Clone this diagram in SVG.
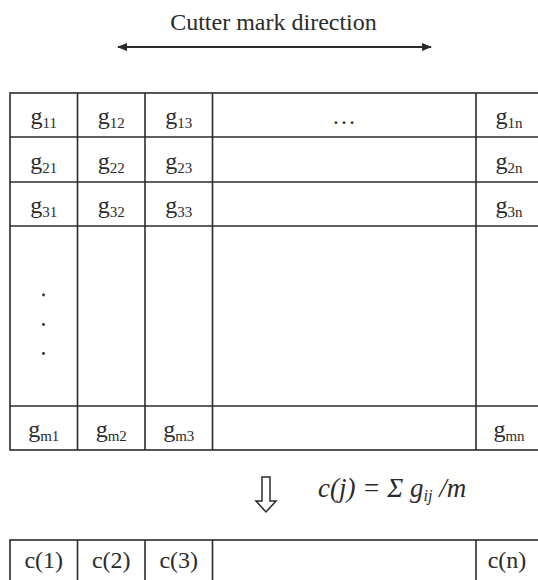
<svg xmlns="http://www.w3.org/2000/svg" width="538" height="580" viewBox="0 0 538 580">
  <style>
    .txt { font-family: "Liberation Serif", "Times New Roman", serif; fill: #2b2b2b; }
    .cell { font-size: 24px; text-anchor: middle; }
    .sub { font-size: 15px; }
    .res { font-size: 24px; }
    .grid { stroke: #2b2b2b; stroke-width: 1.6; fill: none; }
    .conn { stroke: #2b2b2b; stroke-width: 1.8; fill: none; }
  </style>
  <defs>
    <marker id="head" viewBox="0 0 10 8" refX="9" refY="4" markerWidth="10" markerHeight="8" markerUnits="userSpaceOnUse" orient="auto-start-reverse">
      <path d="M0,0 L10,4 L0,8 z" fill="#2b2b2b"/>
    </marker>
  </defs>

  <rect width="538" height="580" fill="#ffffff"/>

  <!-- heading -->
  <g id="title">
    <text class="txt" x="273.5" y="30" font-size="24" text-anchor="middle">Cutter mark direction</text>
  </g>

  <!-- connectors: direction arrow and summation arrow -->
  <g id="connectors">
    <line class="conn" x1="118" y1="47" x2="431" y2="47" marker-start="url(#head)" marker-end="url(#head)"/>
    <polygon id="sum-arrow" points="262,477 270,477 270,501 276,501 266,512 256,501 262,501" fill="#ffffff" stroke="#2b2b2b" stroke-width="1.5" stroke-linejoin="miter"/>
  </g>

  <!-- matrix grid g(i,j) -->
  <g id="matrix-grid" class="grid">
    <rect x="10" y="93" width="534" height="357"/>
    <line x1="10" y1="137" x2="544" y2="137"/>
    <line x1="10" y1="182" x2="544" y2="182"/>
    <line x1="10" y1="226" x2="544" y2="226"/>
    <line x1="10" y1="406" x2="544" y2="406"/>
    <line x1="77.5" y1="93" x2="77.5" y2="450"/>
    <line x1="145" y1="93" x2="145" y2="450"/>
    <line x1="212.5" y1="93" x2="212.5" y2="450"/>
    <line x1="476" y1="93" x2="476" y2="450"/>
  </g>

  <!-- matrix cells -->
  <g id="cell-g11"><text class="txt cell" x="43.75" y="124">g<tspan class="sub" dy="4">11</tspan></text></g>
  <g id="cell-g12"><text class="txt cell" x="111.25" y="124">g<tspan class="sub" dy="4">12</tspan></text></g>
  <g id="cell-g13"><text class="txt cell" x="178.75" y="124">g<tspan class="sub" dy="4">13</tspan></text></g>
  <g id="cell-g1dots"><text class="txt cell" x="344" y="124" font-size="16">…</text></g>
  <g id="cell-g1n"><text class="txt cell" x="509" y="124">g<tspan class="sub" dy="4">1n</tspan></text></g>

  <g id="cell-g21"><text class="txt cell" x="43.75" y="169">g<tspan class="sub" dy="4">21</tspan></text></g>
  <g id="cell-g22"><text class="txt cell" x="111.25" y="169">g<tspan class="sub" dy="4">22</tspan></text></g>
  <g id="cell-g23"><text class="txt cell" x="178.75" y="169">g<tspan class="sub" dy="4">23</tspan></text></g>
  <g id="cell-g2n"><text class="txt cell" x="509" y="169">g<tspan class="sub" dy="4">2n</tspan></text></g>

  <g id="cell-g31"><text class="txt cell" x="43.75" y="213">g<tspan class="sub" dy="4">31</tspan></text></g>
  <g id="cell-g32"><text class="txt cell" x="111.25" y="213">g<tspan class="sub" dy="4">32</tspan></text></g>
  <g id="cell-g33"><text class="txt cell" x="178.75" y="213">g<tspan class="sub" dy="4">33</tspan></text></g>
  <g id="cell-g3n"><text class="txt cell" x="509" y="213">g<tspan class="sub" dy="4">3n</tspan></text></g>

  <g id="cell-vdots" fill="#2b2b2b">
    <circle cx="43.5" cy="295" r="1.4"/>
    <circle cx="43.5" cy="324.5" r="1.4"/>
    <circle cx="43.5" cy="353.5" r="1.4"/>
  </g>

  <g id="cell-gm1"><text class="txt cell" x="43.75" y="437">g<tspan class="sub" dy="4">m1</tspan></text></g>
  <g id="cell-gm2"><text class="txt cell" x="111.25" y="437">g<tspan class="sub" dy="4">m2</tspan></text></g>
  <g id="cell-gm3"><text class="txt cell" x="178.75" y="437">g<tspan class="sub" dy="4">m3</tspan></text></g>
  <g id="cell-gmn"><text class="txt cell" x="509" y="437">g<tspan class="sub" dy="4">mn</tspan></text></g>

  <!-- column mean formula -->
  <g id="formula">
    <text class="txt" x="318" y="497" font-size="27" font-style="italic">c(j) = Σ g<tspan font-size="16" dy="4">ij</tspan><tspan dy="-4"> /m</tspan></text>
  </g>

  <!-- result row c(j) -->
  <g id="result-grid" class="grid">
    <rect x="10" y="540" width="534" height="50"/>
    <line x1="77.5" y1="540" x2="77.5" y2="580"/>
    <line x1="145" y1="540" x2="145" y2="580"/>
    <line x1="212.5" y1="540" x2="212.5" y2="580"/>
    <line x1="476" y1="540" x2="476" y2="580"/>
  </g>
  <g id="cell-c1"><text class="txt cell res" x="43.75" y="568">c(1)</text></g>
  <g id="cell-c2"><text class="txt cell res" x="111.25" y="568">c(2)</text></g>
  <g id="cell-c3"><text class="txt cell res" x="178.75" y="568">c(3)</text></g>
  <g id="cell-cn"><text class="txt cell res" x="507" y="568">c(n)</text></g>
</svg>
